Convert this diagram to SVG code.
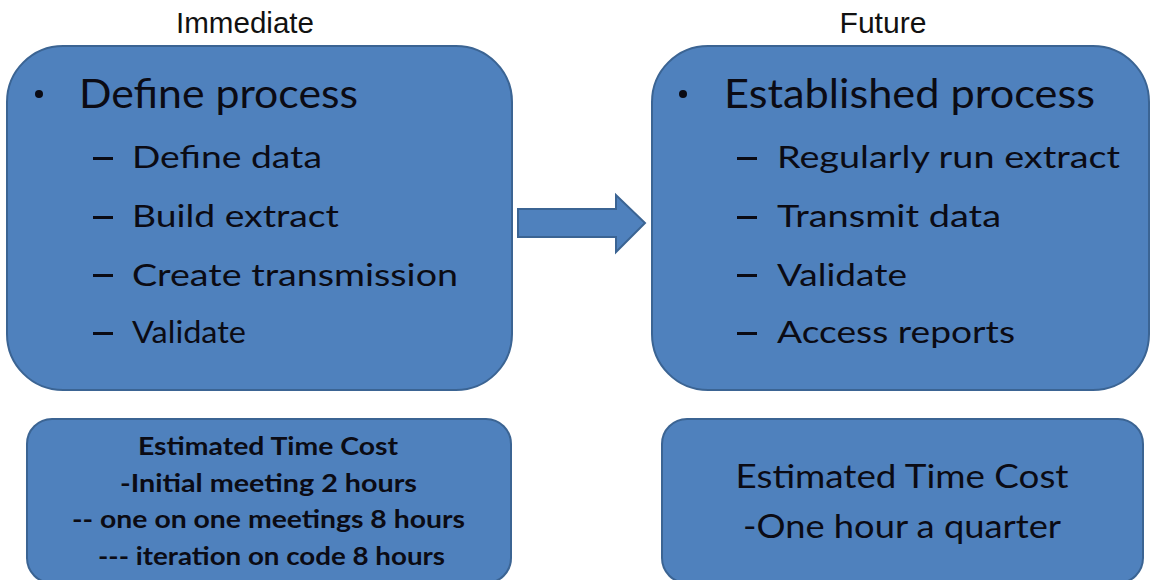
<svg xmlns="http://www.w3.org/2000/svg" width="1151" height="580" viewBox="0 0 1151 580">
<style>
.box{fill:#4f81bd;stroke:#3b6493;stroke-width:2}
.hdr{font-family:"Liberation Sans",Arial,sans-serif;font-size:30px;fill:#111;text-anchor:middle}
.big{font-family:Lato,"Open Sans",sans-serif;font-size:40px;fill:#0b0b14}
.sub{font-family:Lato,"Open Sans",sans-serif;font-size:31px;fill:#0b0b14}
.cb{font-family:Lato,"Open Sans",sans-serif;font-size:24px;font-weight:bold;fill:#0b0b14;text-anchor:middle}
.cr{font-family:Lato,"Open Sans",sans-serif;font-size:32px;fill:#0b0b14;text-anchor:middle}
</style>
<rect width="1151" height="580" fill="#fff"/>
<text class="hdr" x="245" y="33" textLength="138" lengthAdjust="spacingAndGlyphs">Immediate</text>
<text class="hdr" x="883" y="33" textLength="87" lengthAdjust="spacingAndGlyphs">Future</text>
<g id="immediate">
<rect class="box" x="7" y="46" width="505" height="344" rx="56" ry="56"/>
<circle cx="39" cy="94" r="4" fill="#0b0b14"/>
<text class="big" x="79" y="108" textLength="279" lengthAdjust="spacingAndGlyphs">Define process</text>
<g class="sub">
<rect x="93" y="157" width="20" height="3" fill="#0b0b14"/>
<text x="132" y="168" textLength="190" lengthAdjust="spacingAndGlyphs">Define data</text>
<rect x="93" y="216" width="20" height="3" fill="#0b0b14"/>
<text x="132" y="227" textLength="207" lengthAdjust="spacingAndGlyphs">Build extract</text>
<rect x="93" y="274" width="20" height="3" fill="#0b0b14"/>
<text x="132" y="286" textLength="326" lengthAdjust="spacingAndGlyphs">Create transmission</text>
<rect x="93" y="332" width="20" height="3" fill="#0b0b14"/>
<text x="132" y="343" textLength="114" lengthAdjust="spacingAndGlyphs">Validate</text>
</g>
</g>
<g id="future">
<rect class="box" x="652" y="46" width="497" height="344" rx="56" ry="56"/>
<circle cx="683" cy="94" r="4" fill="#0b0b14"/>
<text class="big" x="724" y="108" textLength="371" lengthAdjust="spacingAndGlyphs">Established process</text>
<g class="sub">
<rect x="737" y="157" width="20" height="3" fill="#0b0b14"/>
<text x="777" y="168" textLength="343" lengthAdjust="spacingAndGlyphs">Regularly run extract</text>
<rect x="737" y="216" width="20" height="3" fill="#0b0b14"/>
<text x="777" y="227" textLength="224" lengthAdjust="spacingAndGlyphs">Transmit data</text>
<rect x="737" y="274" width="20" height="3" fill="#0b0b14"/>
<text x="777" y="286" textLength="130" lengthAdjust="spacingAndGlyphs">Validate</text>
<rect x="737" y="332" width="20" height="3" fill="#0b0b14"/>
<text x="777" y="343" textLength="238" lengthAdjust="spacingAndGlyphs">Access reports</text>
</g>
</g>
<g id="cost-immediate">
<rect class="box" x="27" y="419" width="484" height="164" rx="25" ry="25"/>
<text class="cb" x="268" y="455" textLength="260" lengthAdjust="spacingAndGlyphs">Estimated Time Cost</text>
<text class="cb" x="268.5" y="492" textLength="297" lengthAdjust="spacingAndGlyphs">-Initial meeting 2 hours</text>
<text class="cb" x="268.5" y="528" textLength="393" lengthAdjust="spacingAndGlyphs">-- one on one meetings 8 hours</text>
<text class="cb" x="271.5" y="565" textLength="347" lengthAdjust="spacingAndGlyphs">--- iteration on code 8 hours</text>
</g>
<g id="cost-future">
<rect class="box" x="662" y="419" width="481" height="164" rx="25" ry="25"/>
<text class="cr" x="902" y="488" textLength="333" lengthAdjust="spacingAndGlyphs">Estimated Time Cost</text>
<text class="cr" x="902" y="538" textLength="318" lengthAdjust="spacingAndGlyphs">-One hour a quarter</text>
</g>
<g id="connectors">
<path class="box" d="M518,209 L616,209 L616,195 L645,223 L616,252 L616,237 L518,237 Z"/>
</g>
</svg>
